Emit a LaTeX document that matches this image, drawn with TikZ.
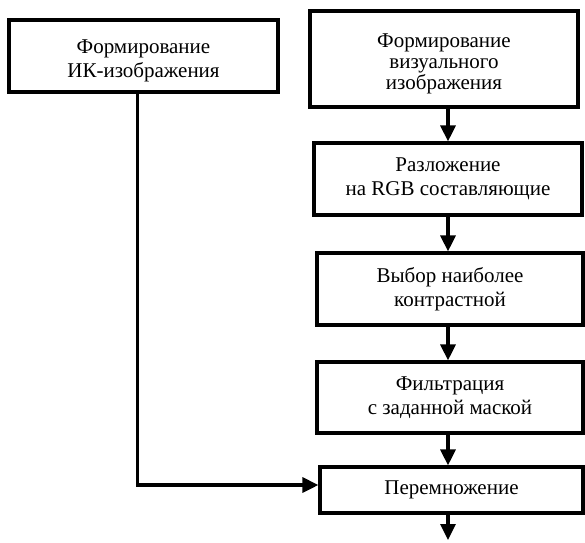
\documentclass[tikz,border=0pt]{standalone}
\usepackage{fontspec}
\setmainfont{Liberation Serif}
\usetikzlibrary{arrows.meta,positioning}

\tikzset{
  block/.style={draw, line width=3.2pt, align=center, inner sep=0pt,
    font=\fontsize{21}{24}\selectfont},
  tight/.style={font=\fontsize{21}{21}\selectfont},
  arr/.style={line width=3.2pt, -{Triangle[width=15pt,length=16pt]}}
}
\newcommand{\lowstrut}{\rule{0pt}{23pt}}

\begin{document}
\begin{tikzpicture}[x=1pt,y=-1pt]
  \useasboundingbox (0,0) rectangle (585,542);

  % IR branch
  \node[block, minimum width=269pt, minimum height=72pt] (ik) at (143.5,56)
    {\lowstrut Формирование\\ИК-изображения};

  % visual branch
  \node[block, tight, minimum width=268pt, minimum height=96pt] (vis) at (444,59)
    {\lowstrut Формирование\\визуального\\изображения};
  \node[block, minimum width=268pt, minimum height=72pt] (rgb) at (448,179)
    {Разложение\\на RGB составляющие};
  \node[block, minimum width=266pt, minimum height=72pt] (sel) at (450,289)
    {Выбор наиболее\\контрастной};
  \node[block, minimum width=266pt, minimum height=71pt] (filt) at (450,397.5)
    {Фильтрация\\с заданной маской};
  \node[block, minimum width=263pt, minimum height=46pt] (mult) at (451.5,490)
    {Перемножение};

  \coordinate (axis) at (448,0);
  \coordinate (out) at (448,540);

  % arrows
  \foreach \a/\b in {vis/rgb, rgb/sel, sel/filt, filt/mult} {
    \draw[arr] (\a.south -| axis) -- (\b.north -| axis);
  }
  \draw[arr] (mult.south -| axis) -- (out);
  \draw[arr] ([xshift=-6pt]ik.south) |- ([yshift=5pt]mult.west);
\end{tikzpicture}
\end{document}
